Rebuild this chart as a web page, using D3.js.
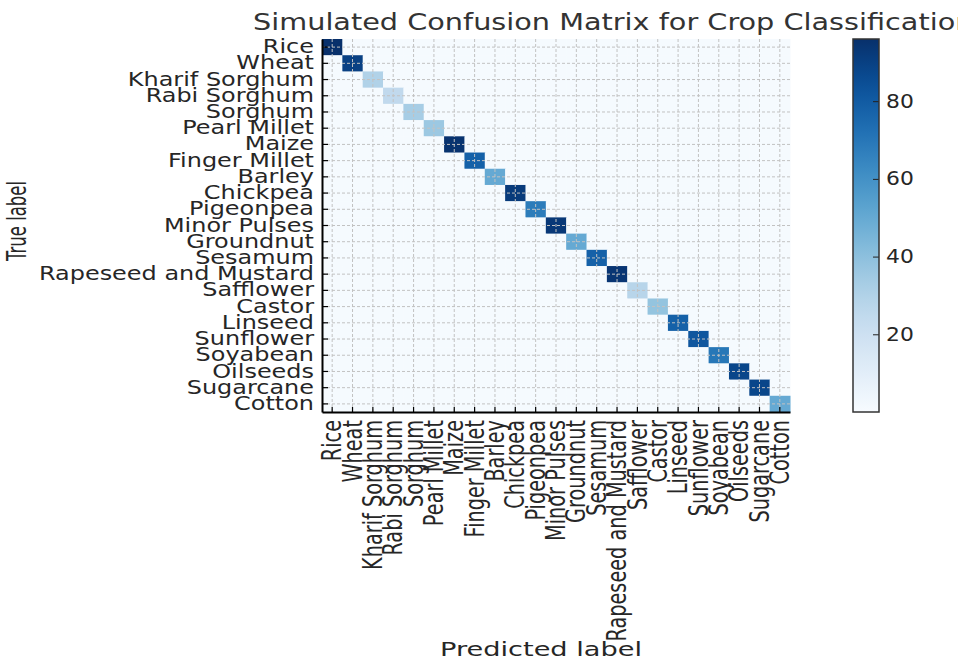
<!DOCTYPE html>
<html>
<head>
<meta charset="utf-8">
<script src="https://cdn.jsdelivr.net/npm/d3@7"></script>
<style>
	body { margin: 0; background: #fff; }
	svg { display: block; font-family: 'DejaVu Sans', sans-serif; }
</style>
</head>
<body>
<svg id="chart" width="958" height="660"></svg>
<script>
// crop classes, same order on both axes
const crops = [
	'Rice', 'Wheat', 'Kharif Sorghum', 'Rabi Sorghum', 'Sorghum', 'Pearl Millet',
	'Maize', 'Finger Millet', 'Barley', 'Chickpea', 'Pigeonpea', 'Minor Pulses',
	'Groundnut', 'Sesamum', 'Rapeseed and Mustard', 'Safflower', 'Castor',
	'Linseed', 'Sunflower', 'Soyabean', 'Oilseeds', 'Sugarcane', 'Cotton'
];

// correct predictions (diagonal)
const diagCounts = [
	96, 90, 30, 25, 33, 36,
	95, 78, 50, 92, 68, 93,
	50, 78, 94, 28, 38,
	78, 82, 70, 88, 88, 50
];

// every off-diagonal cell shows the same near-empty colour
const offDiagCount = 1;

const colorTicks = [20, 40, 60, 80];
const colorDomain = [0, 96];

const svg = d3.select('#chart');
const stretch = 1.26; // picture is wider than it is tall
const fontFamily = "'DejaVu Sans', sans-serif";

const plot = { left: 322, right: 790, top: 39, bottom: 412 };

const cells = [];
crops.forEach((t, i) => {
	crops.forEach((p, j) => {
		cells.push({ trueLabel: t, predLabel: p, value: i === j ? diagCounts[i] : offDiagCount });
	});
});

const x = d3.scaleBand().domain(crops).range([plot.left, plot.right]);
const y = d3.scaleBand().domain(crops).range([plot.top, plot.bottom]);
const color = d3.scaleSequential(d3.interpolateBlues).domain(colorDomain);

// heatmap cells
svg.append('g')
	.attr('class', 'cells')
	.selectAll('rect')
	.data(cells)
	.enter()
	.append('rect')
	.attr('x', d => x(d.predLabel))
	.attr('y', d => y(d.trueLabel))
	.attr('width', x.bandwidth() + 0.5)
	.attr('height', y.bandwidth() + 0.5)
	.attr('fill', d => color(d.value));

// dashed grid through cell centres
const grid = svg.append('g').attr('class', 'grid')
	.attr('stroke', '#c2c2c2')
	.attr('stroke-width', 1)
	.attr('stroke-dasharray', '3,2');

grid.selectAll('.gx')
	.data(crops)
	.enter()
	.append('line')
	.attr('x1', d => x(d) + x.bandwidth() / 2)
	.attr('x2', d => x(d) + x.bandwidth() / 2)
	.attr('y1', plot.top)
	.attr('y2', plot.bottom);

grid.selectAll('.gy')
	.data(crops)
	.enter()
	.append('line')
	.attr('y1', d => y(d) + y.bandwidth() / 2)
	.attr('y2', d => y(d) + y.bandwidth() / 2)
	.attr('x1', plot.left)
	.attr('x2', plot.right);

// axes, ticks pointing inward
const yAxis = svg.append('g')
	.attr('transform', `translate(${plot.left},0)`)
	.call(d3.axisLeft(y).tickSize(-6).tickSizeOuter(0));

yAxis.selectAll('.tick text')
	.attr('x', null)
	.attr('transform', `translate(-8,0) scale(${stretch},1)`)
	.attr('font-size', 19)
	.attr('fill', '#262626');

const xAxis = svg.append('g')
	.attr('transform', `translate(0,${plot.bottom})`)
	.call(d3.axisBottom(x).tickSize(-5).tickSizeOuter(0));

xAxis.selectAll('.tick text')
	.attr('y', null)
	.attr('dy', '0.35em')
	.attr('text-anchor', 'end')
	.attr('transform', 'translate(0,8) scale(1.35,1) rotate(-90)')
	.attr('font-size', 19.3)
	.attr('fill', '#262626');

[xAxis, yAxis].forEach(ax => {
	ax.attr('font-family', fontFamily);
	ax.select('.domain').attr('stroke', '#000').attr('stroke-width', 2);
	ax.selectAll('.tick line').attr('stroke', '#000').attr('stroke-width', 1.2);
});

// axis titles
svg.append('text')
	.attr('transform', 'translate(541,656) scale(1.36,1)')
	.attr('text-anchor', 'middle')
	.attr('font-size', 20)
	.attr('fill', '#262626')
	.text('Predicted label');

svg.append('text')
	.attr('transform', 'translate(26,221) scale(1.6,1) rotate(-90)')
	.attr('text-anchor', 'middle')
	.attr('font-size', 16.5)
	.attr('fill', '#262626')
	.text('True label');

svg.append('text')
	.attr('transform', `translate(253,30) scale(${stretch},1)`)
	.attr('font-size', 22.8)
	.attr('fill', '#333')
	.text('Simulated Confusion Matrix for Crop Classification');

// colour bar
const bar = { left: 853, width: 26 };
const cScale = d3.scaleLinear().domain(colorDomain).range([plot.bottom, plot.top]);

const gradient = svg.append('defs')
	.append('linearGradient')
	.attr('id', 'blues')
	.attr('x1', '0%').attr('x2', '0%')
	.attr('y1', '100%').attr('y2', '0%');

gradient.selectAll('stop')
	.data(d3.range(0, 1.0001, 0.05))
	.enter()
	.append('stop')
	.attr('offset', d => `${d * 100}%`)
	.attr('stop-color', d => d3.interpolateBlues(d));

svg.append('rect')
	.attr('x', bar.left)
	.attr('y', plot.top)
	.attr('width', bar.width)
	.attr('height', plot.bottom - plot.top)
	.attr('fill', 'url(#blues)');

const cAxis = svg.append('g')
	.attr('transform', `translate(${bar.left + bar.width},0)`)
	.call(d3.axisRight(cScale).tickValues(colorTicks).tickSize(-6).tickPadding(8));

cAxis.attr('font-family', fontFamily);
cAxis.select('.domain').remove();
cAxis.selectAll('.tick line').attr('stroke', '#222');
cAxis.selectAll('.tick text')
	.attr('x', null)
	.attr('transform', 'translate(7,0) scale(1.15,1)')
	.attr('font-size', 19)
	.attr('fill', '#262626');

svg.append('rect')
	.attr('x', bar.left)
	.attr('y', plot.top)
	.attr('width', bar.width)
	.attr('height', plot.bottom - plot.top)
	.attr('fill', 'none')
	.attr('stroke', '#333')
	.attr('stroke-width', 1.5);
</script>
</body>
</html>
